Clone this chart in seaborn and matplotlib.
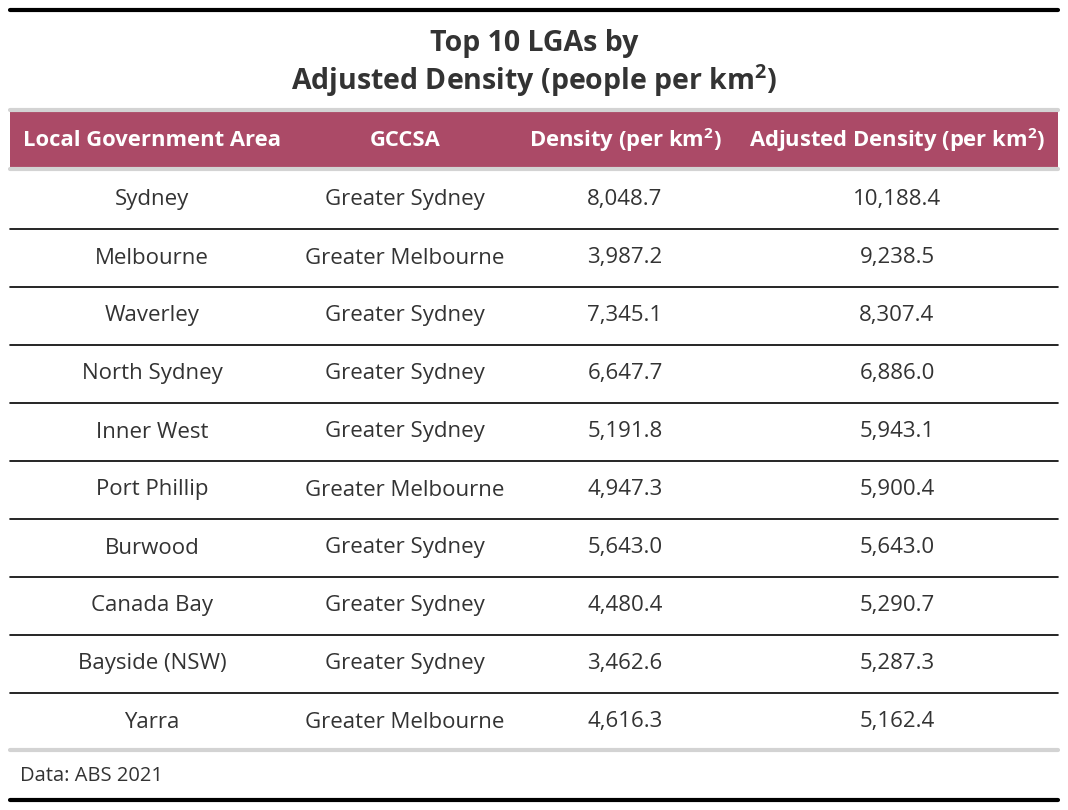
import matplotlib
matplotlib.use("Agg")
import matplotlib.pyplot as plt
import seaborn as sns

lga = ["Sydney", "Melbourne", "Waverley", "North Sydney", "Inner West",
       "Port Phillip", "Burwood", "Canada Bay", "Bayside (NSW)", "Yarra"]
gccsa = ["Greater Sydney", "Greater Melbourne", "Greater Sydney", "Greater Sydney",
         "Greater Sydney", "Greater Melbourne", "Greater Sydney", "Greater Sydney",
         "Greater Sydney", "Greater Melbourne"]
density = [8048.7, 3987.2, 7345.1, 6647.7, 5191.8, 4947.3, 5643.0, 4480.4, 3462.6, 4616.3]
adj_density = [10188.4, 9238.5, 8307.4, 6886.0, 5943.1, 5900.4, 5643.0, 5290.7, 5287.3, 5162.4]
headers = ["Local Government Area", "GCCSA", r"Density (per km$^{\mathbf{2}}$)",
           r"Adjusted Density (per km$^{\mathbf{2}}$)"]

sns.set_theme(style="white")
plt.rcParams['font.family'] = ['Open Sans', 'DejaVu Sans']
plt.rcParams['mathtext.fontset'] = 'custom'
plt.rcParams['mathtext.rm'] = 'Open Sans'
plt.rcParams['mathtext.bf'] = 'Open Sans:bold'

W, H = 1068, 810
fig = plt.figure(figsize=(W / 100, H / 100), dpi=100)
ax = fig.add_axes([0, 0, 1, 1])
ax.set_xlim(0, W)
ax.set_ylim(H, 0)
ax.axis("off")

x0, x1 = 10, 1058
col_x = [152, 405, 625, 897]
text_c = "#333333"

ax.plot([x0, x1], [10, 10], color="black", lw=3)
ax.text(W / 2, 43, "Top 10 LGAs by", ha="center", va="center",
        fontsize=20.5, fontweight="bold", color=text_c)
ax.text(W / 2, 81, r"Adjusted Density (people per km$^{\mathbf{2}}$)", ha="center",
        va="center", fontsize=20.5, fontweight="bold", color=text_c)

ax.plot([x0, x1], [110, 110], color="#d3d3d3", lw=3)
ax.fill_between([x0, x1], 112, 167, color="#ab4a67", lw=0)
ax.plot([x0, x1], [168.5, 168.5], color="#d3d3d3", lw=3)
for x, h in zip(col_x, headers):
    ax.text(x, 140, h, ha="center", va="center", fontsize=15.8,
            fontweight="bold", color="white")

row_h = 58
for i in range(len(lga)):
    y = 200 + i * row_h
    vals = [lga[i], gccsa[i], f"{density[i]:,.1f}", f"{adj_density[i]:,.1f}"]
    for x, v in zip(col_x, vals):
        ax.text(x, y, v, ha="center", va="center", fontsize=16, color=text_c)
    if i < len(lga) - 1:
        ax.plot([x0, x1], [y + 29, y + 29], color="black", lw=1.2)

ax.plot([x0, x1], [750, 750], color="#d3d3d3", lw=3)
ax.text(20, 776, "Data: ABS 2021", ha="left", va="center", fontsize=14.5, color=text_c)
ax.plot([x0, x1], [800, 800], color="black", lw=3)

fig.savefig("out.png", dpi=100, facecolor="white")
